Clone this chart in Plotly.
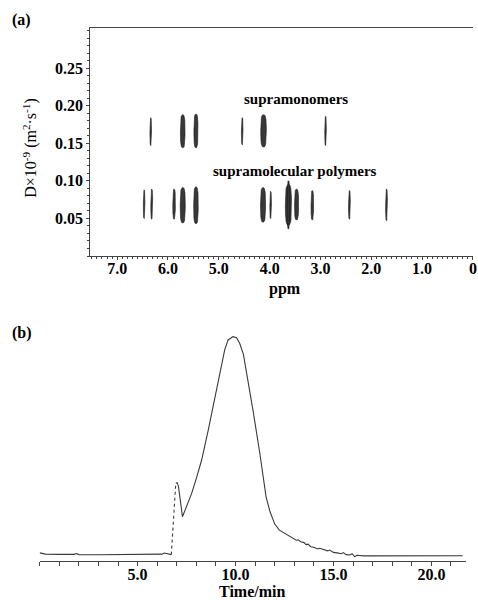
import numpy as np
import plotly.graph_objects as go

W, H = 478, 600

# ---------------- Panel (a): DOSY peaks ----------------
mono_ppm   = [6.34, 5.71, 5.45, 4.54, 4.12, 2.90]
mono_width = [0.03, 0.09, 0.08, 0.03, 0.11, 0.03]
mono_dlo   = [0.147, 0.144, 0.144, 0.148, 0.145, 0.147]
mono_dhi   = [0.184, 0.188, 0.189, 0.184, 0.188, 0.186]

poly_ppm   = [6.47, 6.32, 5.88, 5.71, 5.45, 4.13, 3.98, 3.63, 3.63, 3.47, 3.16, 2.43, 1.70]
poly_width = [0.03, 0.035, 0.05, 0.10, 0.09, 0.10, 0.03, 0.12, 0.05, 0.08, 0.05, 0.035, 0.035]
poly_dlo   = [0.050, 0.049, 0.049, 0.044, 0.043, 0.045, 0.050, 0.041, 0.036, 0.048, 0.048, 0.049, 0.047]
poly_dhi   = [0.088, 0.089, 0.089, 0.091, 0.092, 0.091, 0.086, 0.095, 0.100, 0.089, 0.087, 0.087, 0.089]

ppm_ticks = [7, 6, 5, 4, 3, 2, 1, 0]
ppm_ticktext = ["7.0", "6.0", "5.0", "4.0", "3.0", "2.0", "1.0", "0"]
d_ticks = [0.05, 0.10, 0.15, 0.20, 0.25]
d_ticktext = ["0.05", "0.10", "0.15", "0.20", "0.25"]

# ---------------- Panel (b): GPC trace ----------------
gpc_time = [0.0, 0.3, 1.0, 1.75, 1.88, 2.0, 3.0, 4.0, 5.0, 6.0, 6.25, 6.36, 6.5, 6.62, 6.72,
            6.80, 6.88, 6.95, 7.02, 7.09, 7.18, 7.29, 7.45, 7.6, 7.76, 8.0, 8.27, 8.61, 8.95,
            9.28, 9.45, 9.62, 9.87, 10.05, 10.21, 10.4, 10.55, 10.89, 11.24, 11.56, 11.75,
            11.90, 12.0, 12.24, 12.5, 12.7, 12.83, 13.0, 13.1, 13.2, 13.33, 13.5, 13.6, 13.7,
            13.84, 14.0, 14.2, 14.3, 14.52, 14.7, 14.8, 15.0, 15.19, 15.4, 15.5, 15.65, 15.84,
            15.95, 16.09, 16.2, 16.54, 17.0, 18.0, 19.0, 20.0, 21.0, 21.6]
gpc_signal = [0.008, 0.002, 0.001, 0.001, 0.005, 0.000, -0.001, -0.001, -0.001, 0.000, 0.002,
              0.007, 0.004, 0.003, 0.000,
              0.10, 0.22, 0.327, 0.33, 0.311, 0.25, 0.174, 0.21, 0.245, 0.281, 0.35, 0.434,
              0.572, 0.725,
              0.878, 0.94, 0.985, 1.0, 0.995, 0.97, 0.92, 0.847, 0.663, 0.465, 0.265, 0.20,
              0.158, 0.14, 0.112, 0.098, 0.090, 0.082, 0.075, 0.066, 0.068, 0.059, 0.055,
              0.046, 0.048,
              0.036, 0.034, 0.026, 0.029, 0.021, 0.017, 0.021, 0.010, 0.008, 0.004, 0.009,
              0.000, -0.002,
              0.004, -0.010, -0.003, -0.006, -0.006, -0.005, -0.005, -0.005, -0.004, -0.005]
time_ticks = [5, 10, 15, 20]
time_ticktext = ["5.0", "10.0", "15.0", "20.0"]

FONT = "Liberation Serif"
AX = "#444444"
PEAK_FILL = "#383838"
PEAK_LINE = "#1a1a1a"


def px_x(p):
    return p / W


def px_y(p):
    return 1 - p / H


fig = go.Figure()

# DOSY cross peaks: rounded (superellipse) outlines around each peak's data extent
theta = np.linspace(0, 2 * np.pi, 81)
ct, st = np.cos(theta), np.sin(theta)
shape_x = np.sign(ct) * np.abs(ct) ** (2 / 3.0)
shape_y = np.sign(st) * np.abs(st) ** (2 / 3.0)
for c, w, lo, hi in zip(mono_ppm + poly_ppm, mono_width + poly_width,
                        mono_dlo + poly_dlo, mono_dhi + poly_dhi):
    fig.add_trace(go.Scatter(x=c + shape_x * w / 2, y=(lo + hi) / 2 + shape_y * (hi - lo) / 2,
                             mode="lines", fill="toself", fillcolor=PEAK_FILL,
                             line=dict(color=PEAK_LINE, width=0.6),
                             xaxis="x", yaxis="y", showlegend=False, hoverinfo="skip"))

# GPC trace (panel b): solid part and dotted steep rise
t = np.array(gpc_time)
s = np.array(gpc_signal)
rise = (t >= 6.72) & (t <= 6.95)
solid_a = t <= 6.72
solid_b = t >= 6.95
for mask, dash in ((solid_a, "solid"), (rise, "dot"), (solid_b, "solid")):
    fig.add_trace(go.Scatter(x=t[mask], y=s[mask], mode="lines",
                             line=dict(color="#3a3a3a", width=1.1, dash=dash),
                             xaxis="x2", yaxis="y2", showlegend=False))


def ann(text, x, y, size=16, xref="paper", yref="paper", **kw):
    return dict(text=text, x=x, y=y, xref=xref, yref=yref, xanchor="center",
                yanchor="middle", showarrow=False,
                font=dict(family=FONT, size=size, color="black"), **kw)


annotations = [
    ann("<b>(a)</b>", px_x(22), px_y(20)),
    ann("<b>(b)</b>", px_x(22), px_y(333)),
    ann("<b>supramonomers</b>", 3.49, 0.209, size=15, xref="x", yref="y"),
    ann("<b>supramolecular polymers</b>", 3.51, 0.1136, size=15, xref="x", yref="y"),
    ann("D×10<sup>-9</sup> (m<sup>2</sup>·s<sup>-1</sup>)", px_x(30), px_y(148), textangle=-90),
    ann("<b>ppm</b>", px_x(287), px_y(289)),
    ann("<b>Time/min</b>", px_x(254), px_y(591)),
]

tickfont = dict(family=FONT, size=16, color="black", weight="bold")

fig.update_layout(
    width=W, height=H,
    margin=dict(l=0, r=0, t=0, b=0),
    paper_bgcolor="white", plot_bgcolor="white",
    showlegend=False,
    annotations=annotations,
    xaxis=dict(domain=[px_x(91), px_x(477)], range=[7.53, -0.002], anchor="y",
               tickvals=ppm_ticks, ticktext=ppm_ticktext, tickfont=tickfont,
               ticks="outside", ticklen=3, tickwidth=1, tickcolor=AX,
               ticklabelstandoff=-5, ticklabeloverflow="allow",
               minor=dict(dtick=0.1, ticks="outside", ticklen=2, tickcolor=AX, showgrid=False),
               showline=True, linecolor=AX, linewidth=1, mirror=True,
               showgrid=False, zeroline=False),
    yaxis=dict(domain=[px_y(256), px_y(28.3)], range=[0, 0.303], anchor="x",
               tickvals=d_ticks, ticktext=d_ticktext, tickfont=tickfont,
               ticks="outside", ticklen=3, tickwidth=1, tickcolor=AX,
               ticklabeloverflow="allow",
               minor=dict(dtick=0.01, ticks="outside", ticklen=2, tickcolor=AX, showgrid=False),
               showline=True, linecolor=AX, linewidth=1,
               showgrid=False, zeroline=False),
    xaxis2=dict(domain=[px_x(40), px_x(470)], range=[0, 21.77], anchor="y2",
                tickvals=time_ticks, ticktext=time_ticktext, tickfont=tickfont,
                ticks="outside", ticklen=4, tickwidth=1, tickcolor=AX,
                ticklabelstandoff=-5, ticklabeloverflow="allow",
                minor=dict(dtick=1, ticks="outside", ticklen=4, tickcolor=AX, showgrid=False),
                showline=True, linecolor=AX, linewidth=1,
                showgrid=False, zeroline=False),
    yaxis2=dict(domain=[px_y(560.7), px_y(332.3)], range=[-0.028, 1.02], anchor="x2",
                visible=False, showgrid=False, zeroline=False),
)

fig.write_html("out.html", config={"displayModeBar": False},
               post_script="document.body.style.margin='0px';document.body.style.padding='0px';")
